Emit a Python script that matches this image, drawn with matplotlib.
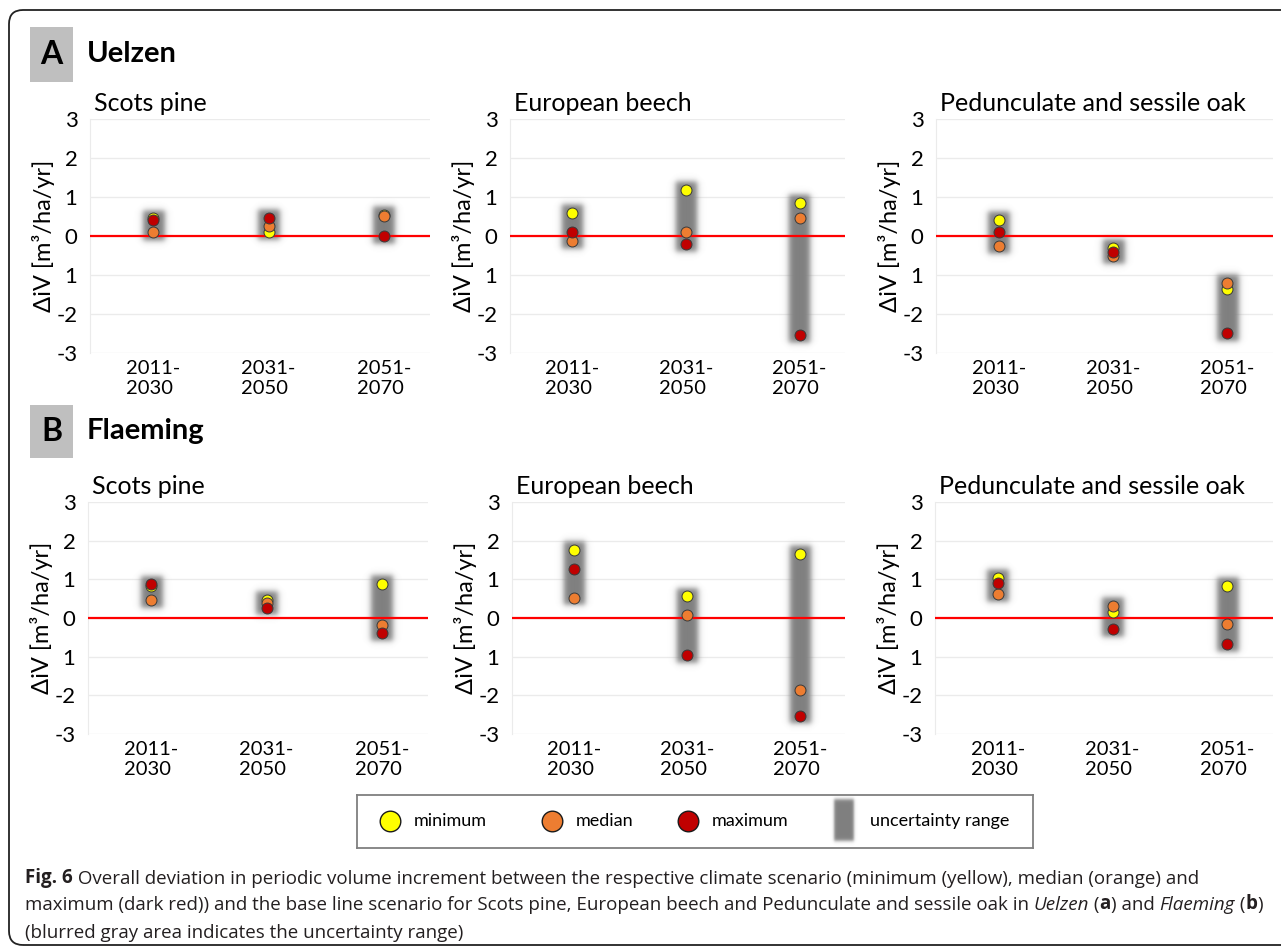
import numpy as np
import matplotlib
matplotlib.use("Agg")
import matplotlib.pyplot as plt
from matplotlib.patches import Rectangle, FancyBboxPatch
from matplotlib.text import Annotation
from matplotlib.transforms import IdentityTransform

W, H = 1281, 947

periods = ["2011-\n2030", "2031-\n2050", "2051-\n2070"]
species = ["Scots pine", "European beech", "Pedunculate and sessile oak"]
ytick_vals = [-3, -2, -1, 0, 1, 2, 3]
ytick_text = ["-3", "-2", "1", "0", "1", "2", "3"]

# rows: pine, beech, oak ; columns: periods
uelzen_min = [[0.45, 0.10, 0.54], [0.60, 1.18, 0.85], [0.42, -0.30, -1.36]]
uelzen_med = [[0.09, 0.26, 0.51], [-0.13, 0.11, 0.47], [-0.25, -0.52, -1.20]]
uelzen_max = [[0.42, 0.47, -0.01], [0.09, -0.21, -2.54], [0.10, -0.42, -2.50]]

flaeming_min = [[0.82, 0.47, 0.89], [1.76, 0.57, 1.66], [1.04, 0.16, 0.84]]
flaeming_med = [[0.47, 0.40, -0.19], [0.53, 0.08, -1.87], [0.61, 0.32, -0.16]]
flaeming_max = [[0.89, 0.27, -0.40], [1.28, -0.95, -2.53], [0.91, -0.29, -0.67]]

YELLOW, ORANGE, DARKRED = "#FFFF00", "#ED7D31", "#C00000"
GRID = "#EBEBEB"
PFONT = "Lato"
CFONT = "Open Sans"

fig = plt.figure(figsize=(W / 100, H / 100), dpi=100)


def px_axes(x0, y0, x1, y1):
    return fig.add_axes([x0 / W, 1 - y1 / H, (x1 - x0) / W, (y1 - y0) / H])


def soft_rect(ax, xc, lo, hi, half_w, sx, sy, z=1):
    # gray rectangle with smooth (blurred) edges, drawn as an RGBA image
    xs = np.linspace(xc - half_w - 4 * sx, xc + half_w + 4 * sx, 80)
    ys = np.linspace(lo - 4 * sy, hi + 4 * sy, 300)
    fx = 0.5 * (np.tanh((xs - (xc - half_w)) / sx) - np.tanh((xs - (xc + half_w)) / sx))
    fy = 0.5 * (np.tanh((ys - lo) / sy) - np.tanh((ys - hi) / sy))
    rgba = np.zeros((len(ys), len(xs), 4))
    rgba[..., :3] = 0.5
    rgba[..., 3] = np.outer(fy, fx)
    ax.imshow(rgba, extent=(xs[0], xs[-1], ys[0], ys[-1]), origin="lower",
              aspect="auto", interpolation="bilinear", zorder=z)


def panel(ax, title, vmin, vmax, vmed):
    x = np.arange(len(periods))
    lo = np.minimum(np.minimum(vmin, vmax), vmed)
    hi = np.maximum(np.maximum(vmin, vmax), vmed)
    for xi, l, h in zip(x, lo, hi):
        soft_rect(ax, xi, l - 0.2, h + 0.2, 0.095, 0.03, 0.085)
    ax.axhline(0, color="#FF0000", lw=1.6, zorder=3)
    ax.scatter(x, vmin, s=62, color=YELLOW, edgecolor="#3a3a3a", lw=0.7, zorder=4)
    ax.scatter(x, vmed, s=62, color=ORANGE, edgecolor="#3a3a3a", lw=0.7, zorder=5)
    ax.scatter(x, vmax, s=62, color=DARKRED, edgecolor="#3a3a3a", lw=0.7, zorder=6)
    ax.set_xlim(-0.55, 2.4)
    ax.set_ylim(-3, 3)
    ax.set_yticks(ytick_vals)
    ax.set_yticklabels(ytick_text, fontsize=16, family=PFONT)
    ax.set_xticks(x)
    ax.set_xticklabels(periods, fontsize=14.5, family=PFONT, linespacing=1.25,
                       multialignment="left")
    ax.tick_params(length=0)
    ax.tick_params(axis="y", pad=9)
    ax.tick_params(axis="x", pad=5)
    ax.grid(axis="y", color=GRID, lw=1)
    ax.set_axisbelow(True)
    for s in ["top", "right", "bottom"]:
        ax.spines[s].set_visible(False)
    ax.spines["left"].set_color(GRID)
    ax.set_ylabel("ΔiV [m³/ha/yr]", fontsize=17, family=PFONT, labelpad=1)
    ax.annotate(title, xy=(0, 1), xycoords="axes fraction", xytext=(3, 6),
                textcoords="offset points", fontsize=18, family=PFONT,
                ha="left", va="baseline")


top_row = [(90, 119, 430, 353), (510, 119, 845, 353), (936, 119, 1273, 353)]
bot_row = [(88, 502, 428, 734), (512, 502, 845, 734), (935, 502, 1273, 734)]

for i, box in enumerate(top_row):
    panel(px_axes(*box), species[i], uelzen_min[i], uelzen_max[i], uelzen_med[i])
for i, box in enumerate(bot_row):
    panel(px_axes(*box), species[i], flaeming_min[i], flaeming_max[i], flaeming_med[i])

# site headers
for letter, site, y0, y1 in [("A", "Uelzen", 27, 82), ("B", "Flaeming", 405, 458)]:
    fig.add_artist(Rectangle((30 / W, 1 - y1 / H), 43 / W, (y1 - y0) / H,
                             transform=fig.transFigure, color="#BFBFBF", lw=0))
    yc = 1 - (y0 + y1) / 2 / H
    fig.text(51.5 / W, yc, letter, fontsize=23, weight="bold", family=PFONT,
             ha="center", va="center")
    fig.text(87 / W, yc, site, fontsize=21, weight="bold", family=PFONT,
             ha="left", va="center")

# legend box
lg = px_axes(357, 795, 1033, 848)
lg.set_xticks([])
lg.set_yticks([])
for s in lg.spines.values():
    s.set_color("#7F7F7F")
    s.set_linewidth(1.3)
for xc, col, label in [(390, YELLOW, "minimum"), (552, ORANGE, "median"),
                       (688, DARKRED, "maximum")]:
    lg.scatter([xc], [821], s=220, color=col, edgecolor="#1a1a1a", lw=1, zorder=3)
    lg.text(xc + 24, 821, label, fontsize=13, family=PFONT, ha="left", va="center")
soft_rect(lg, 843.5, 800, 841, 10, 1.5, 2.0)
lg.set_xlim(357, 1033)
lg.set_ylim(848, 795)
lg.text(870, 821, "uncertainty range", fontsize=13, family=PFONT, ha="left", va="center")

# outer frame
fig.add_artist(FancyBboxPatch((9, 2), 1300, 935, boxstyle="round,pad=0,rounding_size=14",
                              transform=IdentityTransform(), fill=False,
                              ec="#222222", lw=1.3))

# caption
cap_lines = [
    [("Fig. 6", "bold", "normal"),
     (" Overall deviation in periodic volume increment between the respective climate "
      "scenario (minimum (yellow), median (orange) and", "normal", "normal")],
    [("maximum (dark red)) and the base line scenario for Scots pine, European beech "
      "and Pedunculate and sessile oak in ", "normal", "normal"),
     ("Uelzen", "normal", "italic"), (" (", "normal", "normal"), ("a", "bold", "normal"),
     (") and ", "normal", "normal"), ("Flaeming", "normal", "italic"),
     (" (", "normal", "normal"), ("b", "bold", "normal"), (")", "normal", "normal")],
    [("(blurred gray area indicates the uncertainty range)", "normal", "normal")],
]
cap_y = [875, 903, 931]
for parts, yc in zip(cap_lines, cap_y):
    prev = None
    for txt, wt, st in parts:
        kw = dict(fontsize=13.5, family=CFONT, weight=wt, style=st, color="#231F20")
        if prev is None:
            prev = fig.text(25 / W, 1 - yc / H, txt, ha="left", va="center_baseline", **kw)
        else:
            a = Annotation(txt, xy=(1, 0), xycoords=prev, ha="left", va="bottom", **kw)
            fig.add_artist(a)
            prev = a

fig.savefig("out.png", dpi=100)
